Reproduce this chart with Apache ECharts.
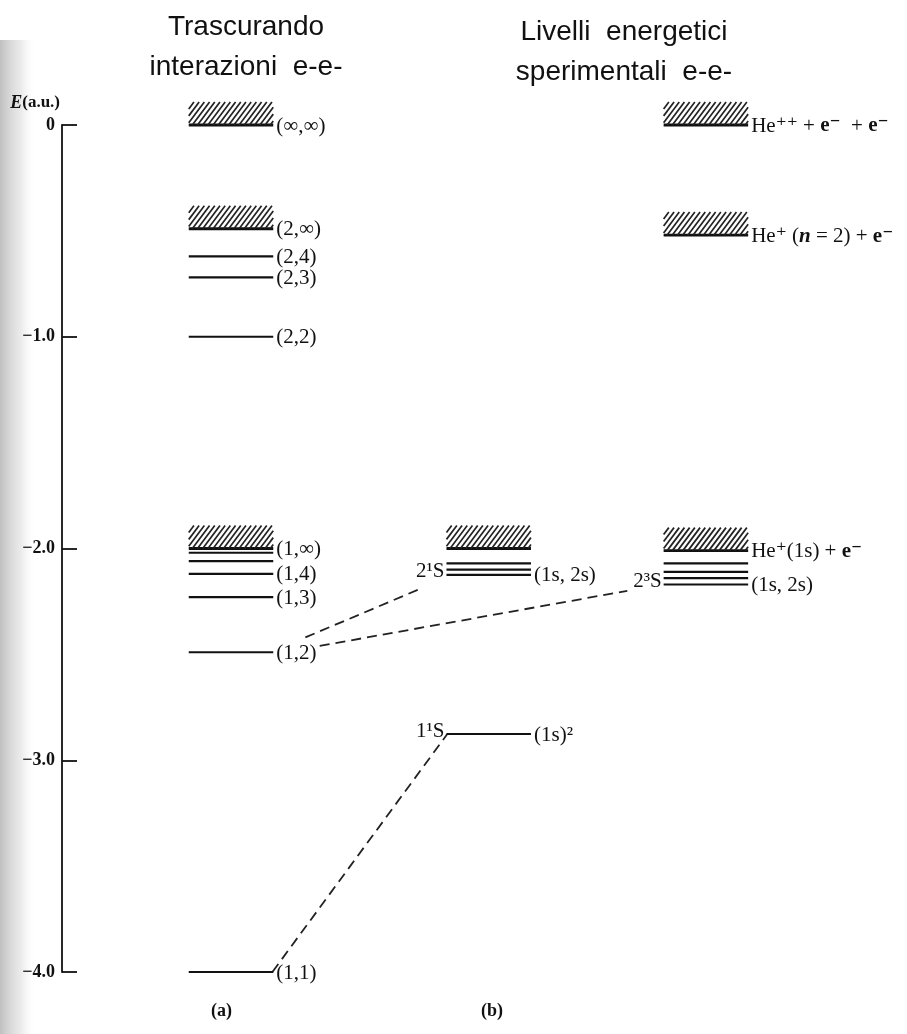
<!DOCTYPE html>
<html>
<head>
<meta charset="utf-8">
<script src="https://cdn.jsdelivr.net/npm/echarts@6/dist/echarts.min.js"></script>
<style>html,body{margin:0;padding:0;background:#fff}#c{width:907px;height:1034px}</style>
</head>
<body>
<div id="c"></div>
<script>
// ---- data ----
const yTicks = [0, -1, -2, -3, -4];
// column (a): neglecting e-e interaction
const levelsA = [0, -0.49, -0.62, -0.72, -1.0, -2.0, -2.02, -2.06, -2.12, -2.23, -2.49, -4.0];
const labelsA = ['(∞,∞)', '(2,∞)', '(2,4)', '(2,3)', '(2,2)', '(1,∞)', '', '', '(1,4)', '(1,3)', '(1,2)', '(1,1)'];
const hatchA  = [1, 1, 0, 0, 0, 1, 0, 0, 0, 0, 0, 0];
// column (b)
const levelsB = [-2.0, -2.07, -2.10, -2.125, -2.876];
const labelsB = ['', '', '', '(1s, 2s)', '(1s)²'];
const leftLabelsB = ['', '', '', '2¹S', '1¹S'];
const hatchB  = [1, 0, 0, 0, 0];
// column (c): experimental
const levelsC = [0, -0.52, -2.01, -2.07, -2.11, -2.14, -2.17];
const labelsC = ['He⁺⁺ + {b|e⁻}  + {b|e⁻}', 'He⁺ ({i|n} = 2) + {b|e⁻}', 'He⁺(1s) + {b|e⁻}', '', '', '', '(1s, 2s)'];
const leftLabelsC = ['', '', '', '', '', '', '2³S'];
const hatchC  = [1, 1, 1, 0, 0, 0, 0];
// dashed correlation lines [x, E]
const connFrom = [[28.8, -2.42], [30.5, -2.46], [24.9, -4.0]];
const connTo   = [[42.4, -2.19], [66.9, -2.20], [45.6, -2.876]];
// column extents (x units)
const colA = [15, 25], colB = [45.5, 55.5], colC = [71.2, 81.2];

const serif = '"Liberation Serif","DejaVu Serif",serif';
const labelFont = '21px ' + serif;
const richStyles = {
  b: {fontFamily: serif, fontSize: 21, fontWeight: 'bold', fill: '#111'},
  i: {fontFamily: serif, fontSize: 21, fontWeight: 'bold', fontStyle: 'italic', fill: '#111'}
};

function levelSeries(levels, labels, leftLabels, hatch, col) {
  return {
    type: 'custom',
    coordinateSystem: 'cartesian2d',
    clip: false,
    data: levels.map((e, i) => [col[0], col[1], e, hatch[i]]),
    renderItem: function (params, api) {
      const i = params.dataIndex;
      const e = api.value(2);
      const p0 = api.coord([api.value(0), e]);
      const p1 = api.coord([api.value(1), e]);
      const isH = api.value(3) === 1;
      const ch = [];
      ch.push({type: 'line', shape: {x1: p0[0], y1: p0[1], x2: p1[0], y2: p1[1]},
               style: {stroke: '#111', lineWidth: isH ? 2.8 : 2.2}});
      if (isH) {
        const h = 23, k = 0.75, step = 5.2;
        for (let xb = p0[0] - h * k; xb < p1[0]; xb += step) {
          const s = Math.max(xb, p0[0]), en = Math.min(xb + h * k, p1[0]);
          if (en <= s) continue;
          ch.push({type: 'line', shape: {x1: s, y1: p0[1] - (s - xb) / k, x2: en, y2: p0[1] - (en - xb) / k},
                   style: {stroke: '#222', lineWidth: 1.7}});
        }
      }
      const lab = labels[i];
      if (lab) ch.push({type: 'text', x: p1[0] + 3, y: p1[1] + 1,
        style: {text: lab, font: labelFont, fill: '#111', rich: richStyles,
                align: 'left', verticalAlign: 'middle', textAlign: 'left', textVerticalAlign: 'middle'}});
      const ll = leftLabels ? leftLabels[i] : '';
      if (ll) ch.push({type: 'text', x: p0[0] - 2, y: p1[1] - 3,
        style: {text: ll, font: labelFont, fill: '#111', align: 'right', verticalAlign: 'middle',
                textAlign: 'right', textVerticalAlign: 'middle'}});
      return {type: 'group', children: ch};
    },
    z: 3
  };
}

const chart = echarts.init(document.getElementById('c'));
chart.setOption({
  backgroundColor: '#fff',
  animation: false,
  title: [
    {text: 'Trascurando\ninterazioni  e-e-', left: 241, top: 2, textAlign: 'center',
     textStyle: {fontFamily: '"Liberation Sans",sans-serif', fontSize: 28, fontWeight: 'normal', lineHeight: 40, color: '#111'}},
    {text: 'Livelli  energetici\nsperimentali  e-e-', left: 619, top: 7, textAlign: 'center',
     textStyle: {fontFamily: '"Liberation Sans",sans-serif', fontSize: 28, fontWeight: 'normal', lineHeight: 40, color: '#111'}}
  ],
  graphic: [
    {type: 'rect', left: 0, top: 40, shape: {width: 36, height: 994}, z: -1,
     style: {fill: new echarts.graphic.LinearGradient(0, 0, 1, 0, [
       {offset: 0, color: 'rgba(150,150,150,0.6)'}, {offset: 0.6, color: 'rgba(200,200,200,0.35)'}, {offset: 1, color: 'rgba(255,255,255,0)'}])}},
    {type: 'text', left: 211, top: 1002, style: {text: '(a)', font: 'bold 18px ' + serif, fill: '#111'}},
    {type: 'text', left: 481, top: 1002, style: {text: '(b)', font: 'bold 18px ' + serif, fill: '#111'}}
  ],
  grid: {left: 62, right: 0, top: 125, bottom: 62, containLabel: false},
  xAxis: {type: 'value', min: 0, max: 100, show: false},
  yAxis: {
    type: 'value', min: -4, max: 0, interval: 1,
    name: '{e|E}{b|(a.u.)}', nameLocation: 'end', nameGap: 13,
    nameTextStyle: {align: 'right', padding: [0, 2, 0, 0],
      rich: {e: {fontFamily: serif, fontStyle: 'italic', fontWeight: 'bold', fontSize: 18, color: '#111'},
             b: {fontFamily: serif, fontWeight: 'bold', fontSize: 17, color: '#111'}}},
    axisLine: {show: true, lineStyle: {color: '#111', width: 1.8}},
    axisTick: {show: true, inside: true, length: 15, lineStyle: {color: '#111', width: 1.8}},
    splitLine: {show: false},
    axisLabel: {margin: 7, fontFamily: serif, fontWeight: 'bold', fontSize: 18, color: '#111',
      formatter: v => v === 0 ? '0' : '−' + Math.abs(v).toFixed(1)}
  },
  series: [
    levelSeries(levelsA, labelsA, null, hatchA, colA),
    levelSeries(levelsB, labelsB, leftLabelsB, hatchB, colB),
    levelSeries(levelsC, labelsC, leftLabelsC, hatchC, colC),
    {
      type: 'custom', coordinateSystem: 'cartesian2d', clip: false,
      data: connFrom.map((f, i) => [f[0], f[1], connTo[i][0], connTo[i][1]]),
      renderItem: function (params, api) {
        const a = api.coord([api.value(0), api.value(1)]);
        const b = api.coord([api.value(2), api.value(3)]);
        return {type: 'line', shape: {x1: a[0], y1: a[1], x2: b[0], y2: b[1]},
                style: {stroke: '#222', lineWidth: 1.8, lineDash: [10, 6]}};
      },
      z: 2
    }
  ]
});
</script>
</body>
</html>
